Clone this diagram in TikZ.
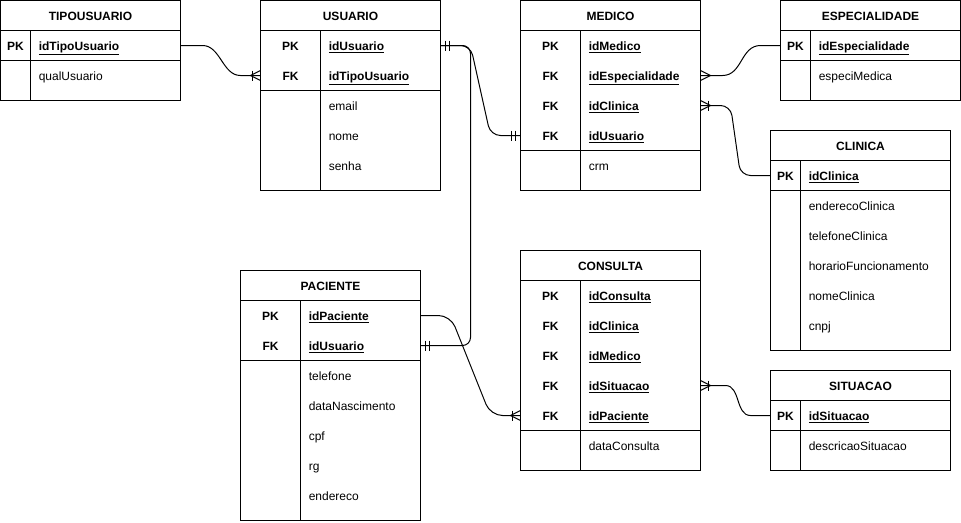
\documentclass[tikz,border=0pt]{standalone}
\usepackage{fontspec}
\setmainfont{Liberation Sans}

% Table frame: #1 name, #2 left, #3 top, #4 width, #5 key column width, #6 separator y, #7 bottom, #8 title
\newcommand{\erframe}[8]{%
  \node[tblbox, minimum width=#4*0.75pt, minimum height=(#7-#3)*0.75pt, anchor=north west] (#1) at (#2,#3) {};
  \draw[tbl] (#2,#3+30) -- (#2+#4,#3+30);
  \draw[tbl] (#2+#5,#3+30) -- (#2+#5,#7);
  \draw[tbl] (#2,#6) -- (#2+#4,#6);
  \node[ttl] (#1-title) at (#2+#4/2,#3+16.5) {#8};
}
% Table row: #1 name, #2 left, #3 row top, #4 width, #5 key column width, #6 key label, #7 field text
\newcommand{\errow}[7]{%
  \node[rowbox, minimum width=#4*0.75pt, anchor=north west] (#1) at (#2,#3) {};
  \node[keytxt] (#1-k) at (#2+#5/2,#3+16.5) {#6};
  \node[fld] (#1-f) at (#2+#5+8,#3+16.5) {#7};
}
\newcommand{\kf}[1]{\textbf{\underline{#1}}}

% Relationship end markers: #1 anchor, #2 direction the line leaves (1 right, -1 left)
\newcommand{\mandOne}[2]{%
  \draw[rel] ([shift={(#2*5,-5)}]#1) -- ([shift={(#2*5,5)}]#1);
  \draw[rel] ([shift={(#2*9,-5)}]#1) -- ([shift={(#2*9,5)}]#1);}
\newcommand{\crowMany}[2]{%
  \draw[rel] ([shift={(0,-5)}]#1) -- ([shift={(#2*10,0)}]#1) -- ([shift={(0,5)}]#1);}
\newcommand{\crowOneMany}[2]{%
  \crowMany{#1}{#2}%
  \draw[rel] ([shift={(#2*8,-5)}]#1) -- ([shift={(#2*8,5)}]#1);}

\begin{document}
\begin{tikzpicture}[x=0.75pt,y=-0.75pt,
  tbl/.style={draw=black, line width=0.75pt},
  tblbox/.style={draw=black, line width=0.75pt, fill=white, inner sep=0, outer sep=0},
  rowbox/.style={draw=none, minimum height=30*0.75pt, inner sep=0, outer sep=0},
  ttl/.style={font=\bfseries\fontsize{9pt}{11pt}\selectfont, anchor=center, inner sep=0, text height=6.5pt, text depth=1.8pt},
  keytxt/.style={font=\bfseries\fontsize{9pt}{11pt}\selectfont, anchor=center, inner sep=0, text height=6.5pt, text depth=1.8pt},
  fld/.style={font=\fontsize{9pt}{11pt}\selectfont, anchor=west, inner sep=0, text height=6.5pt, text depth=1.8pt},
  rel/.style={draw=black, line width=0.75pt},
]
\useasboundingbox (0,0) rectangle (961,522);
\begin{scope}[shift={(0.5,0.5)}]

% TIPOUSUARIO
\erframe{tipo}{0}{0}{180}{30}{60}{100}{TIPOUSUARIO}
\errow{tipo-id}{0}{30}{180}{30}{PK}{\kf{idTipoUsuario}}
\errow{tipo-qual}{0}{60}{180}{30}{}{qualUsuario}

% USUARIO
\erframe{usu}{260}{0}{180}{60}{90}{190}{USUARIO}
\errow{usu-id}{260}{30}{180}{60}{PK}{\kf{idUsuario}}
\errow{usu-tid}{260}{60}{180}{60}{FK}{\kf{idTipoUsuario}}
\errow{usu-email}{260}{90}{180}{60}{}{email}
\errow{usu-nome}{260}{120}{180}{60}{}{nome}
\errow{usu-senha}{260}{150}{180}{60}{}{senha}

% MEDICO
\erframe{med}{520}{0}{180}{60}{150}{190}{MEDICO}
\errow{med-id}{520}{30}{180}{60}{PK}{\kf{idMedico}}
\errow{med-esp}{520}{60}{180}{60}{FK}{\kf{idEspecialidade}}
\errow{med-cli}{520}{90}{180}{60}{FK}{\kf{idClinica}}
\errow{med-usu}{520}{120}{180}{60}{FK}{\kf{idUsuario}}
\errow{med-crm}{520}{150}{180}{60}{}{crm}

% ESPECIALIDADE
\erframe{esp}{780}{0}{180}{30}{60}{100}{ESPECIALIDADE}
\errow{esp-id}{780}{30}{180}{30}{PK}{\kf{idEspecialidade}}
\errow{esp-med}{780}{60}{180}{30}{}{especiMedica}

% CLINICA
\erframe{cli}{770}{130}{180}{30}{190}{350}{CLINICA}
\errow{cli-id}{770}{160}{180}{30}{PK}{\kf{idClinica}}
\errow{cli-end}{770}{190}{180}{30}{}{enderecoClinica}
\errow{cli-tel}{770}{220}{180}{30}{}{telefoneClinica}
\errow{cli-hor}{770}{250}{180}{30}{}{horarioFuncionamento}
\errow{cli-nome}{770}{280}{180}{30}{}{nomeClinica}
\errow{cli-cnpj}{770}{310}{180}{30}{}{cnpj}

% CONSULTA
\erframe{con}{520}{250}{180}{60}{430}{470}{CONSULTA}
\errow{con-id}{520}{280}{180}{60}{PK}{\kf{idConsulta}}
\errow{con-cli}{520}{310}{180}{60}{FK}{\kf{idClinica}}
\errow{con-med}{520}{340}{180}{60}{FK}{\kf{idMedico}}
\errow{con-sit}{520}{370}{180}{60}{FK}{\kf{idSituacao}}
\errow{con-pac}{520}{400}{180}{60}{FK}{\kf{idPaciente}}
\errow{con-data}{520}{430}{180}{60}{}{dataConsulta}

% PACIENTE
\erframe{pac}{240}{270}{180}{60}{360}{520}{PACIENTE}
\errow{pac-id}{240}{300}{180}{60}{PK}{\kf{idPaciente}}
\errow{pac-usu}{240}{330}{180}{60}{FK}{\kf{idUsuario}}
\errow{pac-tel}{240}{360}{180}{60}{}{telefone}
\errow{pac-nasc}{240}{390}{180}{60}{}{dataNascimento}
\errow{pac-cpf}{240}{420}{180}{60}{}{cpf}
\errow{pac-rg}{240}{450}{180}{60}{}{rg}
\errow{pac-end}{240}{480}{180}{60}{}{endereco}

% SITUACAO
\erframe{sit}{770}{370}{180}{30}{430}{470}{SITUACAO}
\errow{sit-id}{770}{400}{180}{30}{PK}{\kf{idSituacao}}
\errow{sit-desc}{770}{430}{180}{30}{}{descricaoSituacao}

% Relationships
\draw[rel] (tipo-id.east) -- ++(22,0) .. controls +(18,0) and +(-18,0) .. ([shift={(-20,0)}]usu-tid.west) -- (usu-tid.west);
\crowOneMany{usu-tid.west}{-1}

\draw[rel, rounded corners=10*0.75pt] (usu-id.east) -- ++(30,0) -- ([shift={(-30,0)}]med-usu.west) -- (med-usu.west);
\draw[rel, rounded corners=8*0.75pt] (usu-id.east) -- ++(30,0) |- (pac-usu.east);
\mandOne{usu-id.east}{1}
\mandOne{med-usu.west}{-1}
\mandOne{pac-usu.east}{1}

\draw[rel] (med-esp.east) -- ++(22,0) .. controls +(20,0) and +(-20,0) .. ([shift={(-20,0)}]esp-id.west) -- (esp-id.west);
\crowMany{med-esp.east}{1}

\draw[rel, rounded corners=10*0.75pt] (med-cli.east) -- ++(30,0) -- ([shift={(-30,0)}]cli-id.west) -- (cli-id.west);
\crowOneMany{med-cli.east}{1}

\draw[rel, rounded corners=12*0.75pt] (pac-id.east) -- ++(30,0) -- ([shift={(-30,0)}]con-pac.west) -- (con-pac.west);
\crowOneMany{con-pac.west}{-1}

\draw[rel] (con-sit.east) -- ++(25,0) .. controls +(15,0) and +(-15,0) .. ([shift={(-20,0)}]sit-id.west) -- (sit-id.west);
\crowOneMany{con-sit.east}{1}

\end{scope}
\end{tikzpicture}
\end{document}
